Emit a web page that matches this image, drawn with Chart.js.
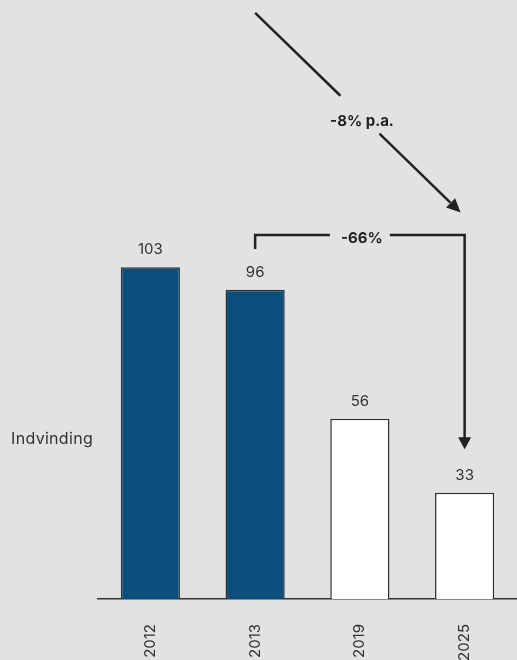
<!DOCTYPE html>
<html>
<head>
<meta charset="utf-8">
<script src="https://cdn.jsdelivr.net/npm/chart.js@4/dist/chart.umd.min.js"></script>
<style>
  html, body { margin: 0; padding: 0; background: #e1e2e4; }
  canvas { display: block; }
</style>
</head>
<body>
<canvas id="indvindingChart" width="517" height="660"></canvas>
<script>
// data
const years = ['2012', '2013', '2019', '2025'];
const indvinding = [103, 96, 56, 33];
const seriesLabel = 'Indvinding';
const growthLabel = '-8% p.a.';
const changeLabel = '-66%';

const font = 'Inter, "Open Sans", sans-serif';
const ink = '#222222';

function arrowHead(ctx, x, y, angle, len, half) {
    ctx.beginPath();
    ctx.moveTo(x, y);
    ctx.lineTo(x - len * Math.cos(angle) + half * Math.sin(angle), y - len * Math.sin(angle) - half * Math.cos(angle));
    ctx.lineTo(x - len * Math.cos(angle) - half * Math.sin(angle), y - len * Math.sin(angle) + half * Math.cos(angle));
    ctx.closePath();
    ctx.fill();
}

const annotations = {
    id: 'annotations',
    afterDatasetsDraw(chart) {
        const ctx = chart.ctx;
        const x = chart.scales.x, y = chart.scales.y;
        const bars = chart.getDatasetMeta(0).data;
        ctx.save();

        // value labels
        ctx.fillStyle = '#333';
        ctx.font = '15px ' + font;
        ctx.textAlign = 'center';
        ctx.textBaseline = 'alphabetic';
        bars.forEach((b, i) => ctx.fillText(indvinding[i], b.x, b.y - 13));

        // series name on the left
        ctx.font = '16px ' + font;
        ctx.letterSpacing = '0.3px';
        ctx.textAlign = 'right';
        ctx.fillText(seriesLabel, chart.chartArea.left - 5, y.getPixelForValue(50) + 6);
        ctx.letterSpacing = '0px';

        ctx.strokeStyle = ink;
        ctx.fillStyle = ink;
        ctx.lineWidth = 2.5;

        // diagonal trend arrow
        const x0 = x.getPixelForValue(1), y0 = y.getPixelForValue(182);
        const x1 = x.getPixelForValue(3) - 4, y1 = y.getPixelForValue(120);
        const pt = t => [x0 + (x1 - x0) * t, y0 + (y1 - y0) * t];
        const a = Math.atan2(y1 - y0, x1 - x0);
        let p = pt(0.415);
        ctx.beginPath(); ctx.moveTo(x0, y0); ctx.lineTo(p[0], p[1]); ctx.stroke();
        p = pt(0.605);
        const q = pt(0.95);
        ctx.beginPath(); ctx.moveTo(p[0], p[1]); ctx.lineTo(q[0], q[1]); ctx.stroke();
        arrowHead(ctx, x1, y1, a, 14, 6.5);
        const m = pt(0.52);
        ctx.font = 'bold 15px ' + font;
        ctx.textAlign = 'center';
        ctx.textBaseline = 'middle';
        ctx.fillText(growthLabel, m[0], m[1] + 5);

        // bracket 2013 -> 2025
        const bx0 = x.getPixelForValue(1), bx1 = x.getPixelForValue(3);
        const by = y.getPixelForValue(113);
        const mid = (bx0 + bx1) / 2;
        ctx.beginPath();
        ctx.moveTo(bx0, y.getPixelForValue(108.7));
        ctx.lineTo(bx0, by);
        ctx.lineTo(mid - 30, by);
        ctx.moveTo(mid + 30, by);
        ctx.lineTo(bx1, by);
        const tipY = y.getPixelForValue(46.5);
        ctx.lineTo(bx1, tipY - 10);
        ctx.stroke();
        arrowHead(ctx, bx1, tipY, Math.PI / 2, 12, 6.5);
        ctx.fillText(changeLabel, mid + 2, by + 3);

        ctx.restore();
    }
};

new Chart(document.getElementById('indvindingChart').getContext('2d'), {
    type: 'bar',
    data: {
        labels: years,
        datasets: [{
            label: seriesLabel,
            data: indvinding,
            backgroundColor: ['#0a4f7c', '#0a4f7c', '#ffffff', '#ffffff'],
            borderColor: '#333333',
            borderWidth: 1.5,
            barPercentage: 0.565,
            categoryPercentage: 1
        }]
    },
    options: {
        responsive: false,
        animation: false,
        devicePixelRatio: 1,
        layout: { padding: { left: 98, right: 0, top: 0, bottom: 0 } },
        plugins: { legend: { display: false }, tooltip: { enabled: false } },
        scales: {
            x: {
                grid: { display: false },
                border: { display: true, color: '#333', width: 1.5 },
                ticks: {
                    minRotation: 90, maxRotation: 90, padding: 17,
                    color: '#333', font: { family: font, size: 15 }
                },
                afterFit(scale) { scale.height = 61; }
            },
            y: { display: false, min: 0, max: 186 }
        }
    },
    plugins: [annotations]
});
</script>
</body>
</html>
